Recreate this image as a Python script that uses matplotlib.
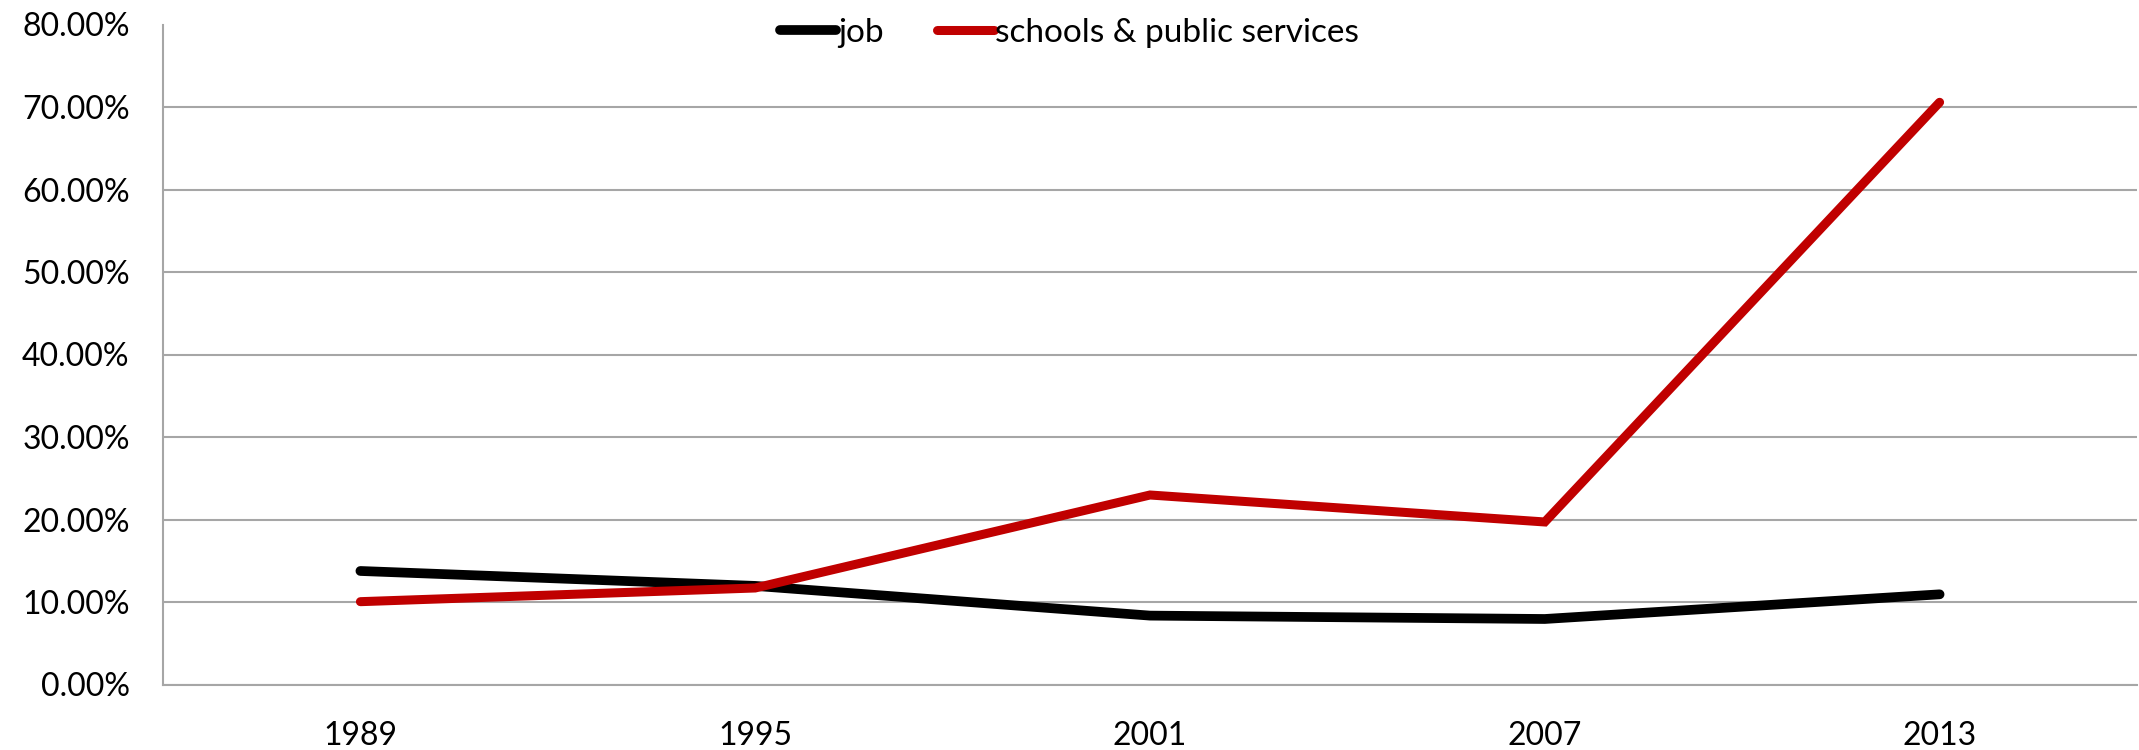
import matplotlib
matplotlib.use("Agg")
import matplotlib.pyplot as plt
from matplotlib.ticker import PercentFormatter

# ── Data ──────────────────────────────────────────────────────
years = ["1989", "1995", "2001", "2007", "2013"]
job = [0.1376, 0.1195, 0.0835, 0.0794, 0.1093]
schools = [0.1004, 0.1170, 0.2297, 0.1970, 0.7057]
y_ticks = [0.0, 0.1, 0.2, 0.3, 0.4, 0.5, 0.6, 0.7, 0.8]

plt.rcParams['font.family'] = ['Lato', 'DejaVu Sans']

GRID = '#A6A6A6'

fig = plt.figure(figsize=(21.39, 7.5), dpi=100)
ax = fig.add_axes([163 / 2139, 65.5 / 750, 1974 / 2139, 660 / 750])

x = range(len(years))
ax.plot(x, job, color='black', linewidth=7.0, label='job',
        solid_capstyle='round', solid_joinstyle='miter')
ax.plot(x, schools, color='#C00000', linewidth=6.5, label='schools & public services',
        solid_capstyle='round', solid_joinstyle='miter')

ax.set_xlim(-0.5, len(years) - 0.5)
ax.set_ylim(0, 0.8)
ax.set_xticks(list(x))
ax.set_xticklabels(years)
ax.set_yticks(y_ticks)
ax.yaxis.set_major_formatter(PercentFormatter(xmax=1, decimals=2))

ax.tick_params(axis='both', length=0, labelsize=23, colors='black')
ax.tick_params(axis='x', pad=26)
ax.tick_params(axis='y', pad=24)

# horizontal gridlines only, none on the 80% top
ax.yaxis.grid(True, color=GRID, linewidth=1.5)
ax.set_axisbelow(True)
ax.yaxis.get_gridlines()[-1].set_visible(False)

for side in ['top', 'right']:
    ax.spines[side].set_visible(False)
for side in ['left', 'bottom']:
    ax.spines[side].set_color(GRID)
    ax.spines[side].set_linewidth(1.5)

fig.legend(loc='center', bbox_to_anchor=(0.5, 1 - 33 / 750), ncol=2, frameon=False,
           fontsize=24, handlelength=1.7, handletextpad=0.05, columnspacing=1.6)

fig.savefig('out.png', dpi=100)
